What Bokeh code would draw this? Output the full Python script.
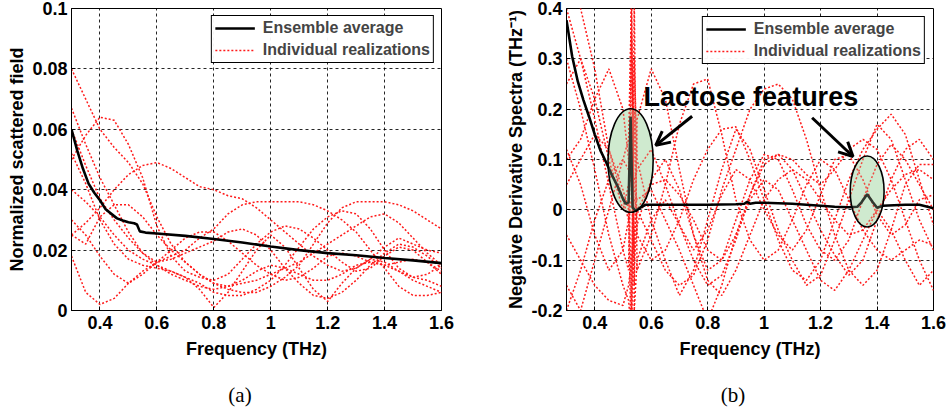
from bokeh.plotting import figure
from bokeh.layouts import row, column
from bokeh.models import (FixedTicker, CustomJSTickFormatter, Legend, LegendItem,
                          Label, Arrow, OpenHead, Range1d, Div)
from bokeh.embed import file_html
from bokeh.resources import INLINE

# ---------------- data: panel (a) ----------------
x_ticks = [0.4, 0.6, 0.8, 1.0, 1.2, 1.4, 1.6]
ya_ticks = [0, 0.02, 0.04, 0.06, 0.08, 0.1]
yb_ticks = [-0.2, -0.1, 0, 0.1, 0.2, 0.3, 0.4]

avg_fa = [0.30, 0.32, 0.34, 0.36, 0.38, 0.40, 0.42, 0.44, 0.46, 0.48, 0.50, 0.52, 0.53,
          0.54, 0.56, 0.60, 0.70, 0.80, 0.90, 1.00, 1.10, 1.20, 1.30, 1.40, 1.50, 1.60]
avg_a = [0.060, 0.053, 0.047, 0.042, 0.039, 0.0365, 0.0335, 0.032, 0.0305, 0.0298, 0.0292,
         0.0289, 0.0285, 0.0262, 0.0258, 0.0255, 0.0247, 0.0237, 0.0225, 0.0212, 0.0200,
         0.0190, 0.0183, 0.0174, 0.0166, 0.0157]

freq_a = [0.30, 0.35, 0.40, 0.45, 0.50, 0.55, 0.60, 0.65, 0.70, 0.75, 0.80, 0.85, 0.90, 0.95,
          1.00, 1.05, 1.10, 1.15, 1.20, 1.25, 1.30, 1.35, 1.40, 1.45, 1.50, 1.55, 1.60]
real_a1 = [0.080, 0.070, 0.060, 0.054, 0.049, 0.042, 0.031, 0.022, 0.016, 0.012, 0.009, 0.008, 0.010, 0.013,
           0.015, 0.014, 0.012, 0.010, 0.010, 0.012, 0.015, 0.016, 0.015, 0.013, 0.011, 0.010, 0.008]
real_a2 = [0.050, 0.058, 0.064, 0.063, 0.055, 0.044, 0.028, 0.018, 0.013, 0.011, 0.010, 0.012, 0.017, 0.022,
           0.026, 0.028, 0.027, 0.024, 0.020, 0.016, 0.013, 0.014, 0.018, 0.021, 0.020, 0.016, 0.012]
real_a3 = [0.025, 0.029, 0.034, 0.040, 0.045, 0.048, 0.049, 0.047, 0.044, 0.041, 0.040, 0.038, 0.037, 0.034,
           0.030, 0.026, 0.022, 0.018, 0.015, 0.013, 0.014, 0.017, 0.021, 0.024, 0.022, 0.020, 0.019]
real_a4 = [0.060, 0.048, 0.037, 0.030, 0.024, 0.019, 0.015, 0.012, 0.010, 0.008, 0.007, 0.008, 0.009, 0.010,
           0.012, 0.014, 0.016, 0.019, 0.022, 0.025, 0.028, 0.031, 0.032, 0.029, 0.024, 0.019, 0.015]
real_a5 = [0.018, 0.006, 0.002, 0.004, 0.009, 0.013, 0.016, 0.018, 0.020, 0.024, 0.027, 0.032, 0.035, 0.036,
           0.036, 0.036, 0.036, 0.035, 0.033, 0.030, 0.026, 0.020, 0.014, 0.008, 0.005, 0.005, 0.006]
real_a6 = [0.025, 0.022, 0.031, 0.035, 0.035, 0.031, 0.025, 0.020, 0.016, 0.012, 0.009, 0.007, 0.006, 0.006,
           0.008, 0.011, 0.015, 0.022, 0.029, 0.034, 0.036, 0.036, 0.036, 0.035, 0.033, 0.030, 0.027]
real_a7 = [0.067, 0.055, 0.044, 0.035, 0.026, 0.019, 0.016, 0.017, 0.019, 0.021, 0.023, 0.026, 0.027, 0.025,
           0.020, 0.014, 0.009, 0.005, 0.004, 0.006, 0.010, 0.015, 0.019, 0.022, 0.021, 0.018, 0.014]
real_a8 = [0.052, 0.042, 0.030, 0.022, 0.017, 0.015, 0.014, 0.013, 0.011, 0.009, 0.006, 0.005, 0.005, 0.007,
           0.010, 0.015, 0.021, 0.027, 0.031, 0.033, 0.032, 0.027, 0.020, 0.014, 0.011, 0.012, 0.015]
real_a9 = [0.040, 0.036, 0.031, 0.025, 0.020, 0.017, 0.015, 0.013, 0.011, 0.007, 0.001, 0.006, 0.013, 0.020,
           0.025, 0.021, 0.014, 0.007, 0.003, 0.009, 0.014, 0.017, 0.016, 0.013, 0.010, 0.008, 0.006]
real_a10 = [0.030, 0.025, 0.018, 0.012, 0.009, 0.012, 0.016, 0.020, 0.024, 0.026, 0.026, 0.023, 0.019, 0.015,
            0.012, 0.010, 0.011, 0.014, 0.018, 0.019, 0.018, 0.016, 0.015, 0.016, 0.017, 0.016, 0.013]
reals_a = [real_a1, real_a2, real_a3, real_a4, real_a5, real_a6, real_a7, real_a8, real_a9, real_a10]

# ---------------- data: panel (b) ----------------
avg_fb = [0.30, 0.32, 0.34, 0.36, 0.38, 0.40, 0.42, 0.44, 0.46, 0.48, 0.50, 0.51, 0.52, 0.527,
          0.534, 0.545, 0.56, 0.58, 0.60, 0.70, 0.80, 0.90, 0.93, 0.94, 0.95, 0.97, 1.00, 1.10,
          1.20, 1.25, 1.30, 1.33, 1.345, 1.365, 1.385, 1.40, 1.42, 1.50, 1.55, 1.60]
avg_b = [0.377, 0.305, 0.255, 0.218, 0.185, 0.150, 0.118, 0.095, 0.070, 0.048, 0.022, 0.012, 0.015, 0.185,
         0.005, -0.002, 0.004, 0.010, 0.010, 0.010, 0.010, 0.011, 0.012, 0.016, 0.012, 0.014, 0.014, 0.012,
         0.008, 0.006, 0.005, 0.006, 0.015, 0.031, 0.015, 0.004, 0.008, 0.010, 0.010, 0.003]

freq_b = [0.30, 0.35, 0.40, 0.45, 0.50, 0.52, 0.53, 0.54, 0.55, 0.60, 0.65, 0.70, 0.75, 0.80, 0.85,
          0.90, 0.95, 1.00, 1.05, 1.10, 1.15, 1.20, 1.25, 1.30, 1.35, 1.40, 1.45, 1.50, 1.55, 1.60]
real_b1 = [0.45, 0.40, 0.28, 0.12, 0.02, -0.02, 0.45, -0.10, -0.03, 0.06, 0.10, 0.04, -0.05, -0.12, -0.10,
           -0.02, 0.06, 0.11, 0.10, 0.04, -0.03, -0.08, -0.10, -0.06, 0.02, 0.09, 0.13, 0.10, 0.05, 0.00]
real_b2 = [0.10, 0.14, 0.22, 0.28, 0.20, 0.10, -0.20, 0.30, 0.10, -0.02, -0.10, -0.17, -0.12, -0.02, 0.08,
           0.16, 0.12, 0.04, -0.04, -0.10, -0.15, -0.13, -0.06, 0.02, 0.10, 0.17, 0.14, 0.06, -0.02, -0.08]
real_b3 = [-0.15, -0.20, -0.10, 0.00, 0.10, 0.14, 0.40, -0.15, 0.18, 0.28, 0.22, 0.08, -0.05, -0.14, -0.17,
           -0.12, -0.05, 0.02, 0.06, 0.08, 0.06, 0.02, -0.02, -0.05, -0.04, 0.00, 0.04, 0.07, 0.08, 0.06]
real_b4 = [0.30, 0.20, 0.08, -0.05, -0.15, -0.18, -0.25, 0.42, -0.12, -0.05, 0.05, 0.17, 0.25, 0.26, 0.15,
           0.02, -0.06, -0.10, -0.08, -0.02, 0.05, 0.10, 0.08, 0.02, -0.04, -0.08, -0.10, -0.08, -0.06, -0.07]
real_b5 = [-0.20, -0.12, -0.02, 0.06, 0.10, 0.08, 0.05, 0.02, 0.00, -0.06, -0.12, -0.15, -0.13, -0.06, 0.04,
           0.12, 0.20, 0.24, 0.25, 0.22, 0.14, 0.04, -0.05, -0.12, -0.15, -0.12, -0.04, 0.05, 0.09, 0.09]
real_b6 = [0.05, 0.10, 0.15, 0.12, 0.04, 0.00, -0.30, 0.20, -0.05, -0.10, -0.08, -0.02, 0.06, 0.12, 0.16,
           0.165, 0.10, 0.02, -0.06, -0.12, -0.14, -0.10, -0.02, 0.06, 0.12, 0.16, 0.19, 0.15, 0.06, -0.03]
real_b7 = [0.40, 0.30, 0.18, 0.05, -0.08, -0.12, 0.35, -0.20, -0.10, -0.02, 0.02, -0.03, -0.10, -0.15, -0.13,
           -0.06, 0.03, 0.10, 0.11, 0.08, 0.02, -0.04, -0.09, -0.13, -0.10, -0.02, 0.06, 0.12, 0.14, 0.10]
real_b8 = [-0.05, -0.10, -0.15, -0.18, -0.19, -0.15, -0.10, -0.05, 0.00, 0.05, 0.06, 0.03, -0.02, -0.08, -0.10,
           -0.05, 0.03, 0.09, 0.11, 0.10, 0.07, 0.05, 0.08, 0.12, 0.14, 0.12, 0.06, -0.02, -0.10, -0.16]
real_b9 = [0.25, 0.30, 0.22, 0.10, 0.00, 0.05, 0.10, 0.04, 0.02, 0.04, -0.02, -0.08, -0.15, -0.22, -0.15,
           -0.05, 0.02, 0.06, 0.04, -0.02, -0.08, -0.14, -0.16, -0.12, -0.06, 0.00, -0.04, -0.10, -0.15, -0.12]
real_b10 = [0.12, 0.05, -0.05, -0.12, -0.08, -0.02, 0.02, 0.06, 0.08, 0.12, 0.05, -0.03, -0.08, -0.04, 0.03,
            0.08, 0.06, 0.00, -0.05, -0.08, -0.04, 0.03, 0.10, 0.11, 0.06, -0.01, -0.05, -0.03, 0.02, 0.03]
reals_b = [real_b1, real_b2, real_b3, real_b4, real_b5, real_b6, real_b7, real_b8, real_b9, real_b10]

# annotation (lactose features) on panel (b)
feat_x = [0.527, 1.365]
feat_y = [0.098, 0.0365]
feat_w = [0.16, 0.12]
feat_h = [0.206, 0.141]

FONT = "Liberation Sans"
RED = "#ff1a1a"


def style(p, yticks):
    p.xaxis.ticker = FixedTicker(ticks=x_ticks)
    p.yaxis.ticker = FixedTicker(ticks=yticks)
    fmt = "return String(Math.round(tick*1000)/1000);"
    p.xaxis.formatter = CustomJSTickFormatter(code=fmt)
    p.yaxis.formatter = CustomJSTickFormatter(code=fmt)
    for ax in (p.xaxis, p.yaxis):
        ax.major_label_text_font = FONT
        ax.major_label_text_font_style = "bold"
        ax.major_label_text_font_size = "18px"
        ax.major_label_text_color = "black"
        ax.axis_label_text_font = FONT
        ax.axis_label_text_font_style = "bold"
        ax.axis_label_text_font_size = "18px"
        ax.axis_label_text_color = "black"
        ax.major_tick_in = 4
        ax.major_tick_out = 0
        ax.minor_tick_line_color = None
        ax.axis_line_color = "black"
        ax.major_tick_line_color = "black"
    p.xaxis.major_label_standoff = 5
    p.xaxis.axis_label_standoff = 7
    p.yaxis.major_label_standoff = 4
    p.yaxis.axis_label_standoff = 2
    p.grid.grid_line_color = "black"
    p.grid.grid_line_dash = "3 3"
    p.grid.grid_line_width = 1
    p.grid.grid_line_alpha = 0.85
    p.outline_line_color = "black"
    p.outline_line_width = 1
    p.outline_line_alpha = 1


def legend(p, avg_r, red_r, margin):
    lg = Legend(items=[LegendItem(label="Ensemble average", renderers=[avg_r]),
                       LegendItem(label="Individual realizations", renderers=[red_r])],
                location="top_right", margin=margin, padding=3, spacing=4,
                label_text_font=FONT, label_text_font_style="bold",
                label_text_font_size="16px", glyph_width=40, glyph_height=16,
                label_height=16, label_standoff=8, border_line_color="black",
                border_line_width=1, border_line_alpha=1)
    p.add_layout(lg)


def caption(text, width, pad_left):
    html = ('<div style="font-family:\'Liberation Serif\',serif;font-size:21px;'
            'text-align:center;line-height:40px;padding-left:%dpx;'
            'box-sizing:border-box;width:%dpx;color:black;">%s</div>' % (pad_left, width, text))
    return Div(text=html, width=width, height=41, margin=0)


# ---------------- panel (a) ----------------
pa = figure(width=470, height=375, output_backend="svg", toolbar_location=None,
            x_range=Range1d(0.3, 1.6), y_range=Range1d(0, 0.1),
            min_border_left=71, min_border_right=29, min_border_top=8, min_border_bottom=65,
            x_axis_label="Frequency (THz)", y_axis_label="Normalized scattered field")
style(pa, ya_ticks)
red_a = [pa.line(freq_a, r, line_color=RED, line_width=1.5, line_dash="2 2") for r in reals_a]
avg_ra = pa.line(avg_fa, avg_a, line_color="black", line_width=2.6)
legend(pa, avg_ra, red_a[0], 7)

# ---------------- panel (b) ----------------
pb = figure(width=479, height=375, output_backend="svg", toolbar_location=None,
            x_range=Range1d(0.3, 1.6), y_range=Range1d(-0.2, 0.4),
            min_border_left=96, min_border_right=16, min_border_top=8, min_border_bottom=65,
            x_axis_label="Frequency (THz)",
            y_axis_label="Negative Derivative Spectra (THz\u207b\u00b9)")
style(pb, yb_ticks)
pb.ellipse(x=feat_x, y=feat_y, width=feat_w, height=feat_h, fill_color="#d5ecd5",
           fill_alpha=1.0, line_color=None)
red_b = [pb.line(freq_b, r, line_color=RED, line_width=1.5, line_dash="2 2") for r in reals_b]
avg_rb = pb.line(avg_fb, avg_b, line_color="black", line_width=2.6)
pb.ellipse(x=feat_x, y=feat_y, width=feat_w, height=feat_h, fill_color="#c0e4c0",
           fill_alpha=0.25, line_color="black", line_width=1.6)
legend(pb, avg_rb, red_b[0], 8)
pb.add_layout(Label(x=0.573, y=0.224, text="Lactose features", text_font=FONT,
                    text_font_style="bold", text_font_size="27px", text_baseline="middle",
                    text_color="black"))
pb.add_layout(Arrow(end=OpenHead(size=14, line_width=3, line_color="black"),
                    x_start=0.745, y_start=0.186, x_end=0.616, y_end=0.128,
                    line_width=3, line_color="black"))
pb.add_layout(Arrow(end=OpenHead(size=14, line_width=3, line_color="black"),
                    x_start=1.17, y_start=0.183, x_end=1.315, y_end=0.106,
                    line_width=3, line_color="black"))

layout = column(row(pa, pb), row(caption("(a)", 470, 10), caption("(b)", 479, 47)))
open("out.html", "w").write(file_html(layout, INLINE))
